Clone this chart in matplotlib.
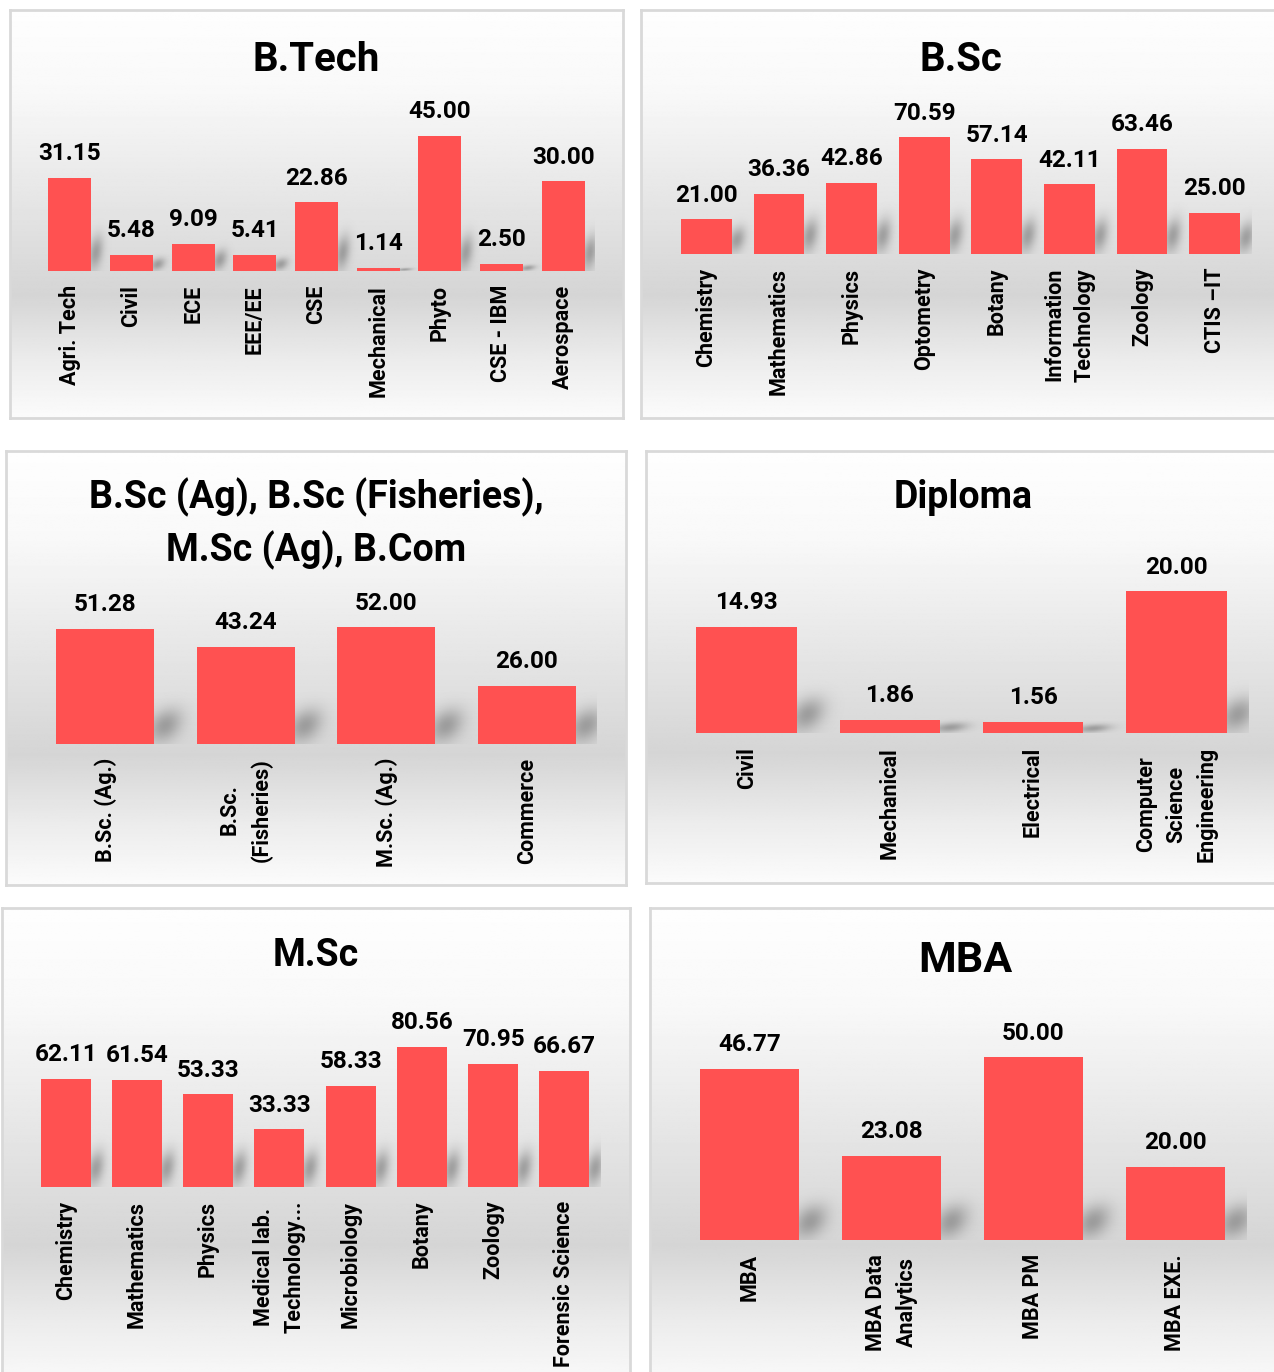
import numpy as np
import matplotlib
matplotlib.use('Agg')
import matplotlib.pyplot as plt

plt.rcParams['font.family'] = ['Roboto', 'DejaVu Sans']
plt.rcParams['font.weight'] = 'bold'

W, H = 1274, 1372

# data
btech_cats = ['Agri. Tech', 'Civil', 'ECE', 'EEE/EE', 'CSE', 'Mechanical', 'Phyto', 'CSE - IBM', 'Aerospace']
btech_vals = [31.15, 5.48, 9.09, 5.41, 22.86, 1.14, 45.00, 2.50, 30.00]

bsc_cats = ['Chemistry', 'Mathematics', 'Physics', 'Optometry', 'Botany',
            'Information\nTechnology', 'Zoology', 'CTIS \u2013IT']
bsc_vals = [21.00, 36.36, 42.86, 70.59, 57.14, 42.11, 63.46, 25.00]

ag_cats = ['B.Sc. (Ag.)', 'B.Sc.\n(Fisheries)', 'M.Sc. (Ag.)', 'Commerce']
ag_vals = [51.28, 43.24, 52.00, 26.00]

dip_cats = ['Civil', 'Mechanical', 'Electrical', 'Computer\nScience\nEngineering']
dip_vals = [14.93, 1.86, 1.56, 20.00]

msc_cats = ['Chemistry', 'Mathematics', 'Physics', 'Medical lab.\nTechnology...',
            'Microbiology', 'Botany', 'Zoology', 'Forensic Science']
msc_vals = [62.11, 61.54, 53.33, 33.33, 58.33, 80.56, 70.95, 66.67]

mba_cats = ['MBA', 'MBA Data\nAnalytics', 'MBA PM', 'MBA EXE.']
mba_vals = [46.77, 23.08, 50.00, 20.00]

BAR = '#FF5151'

# panel box (x0, y0, x1, y1), plot box (left, top, right, baseline), px per unit, title, title y
panels = [
    ('B.Tech', btech_cats, btech_vals, (10, 10, 623, 418), (39, 100, 594, 271), 3.0, 60, 29),
    ('B.Sc', bsc_cats, bsc_vals, (641, 10, 1290, 418), (670, 100, 1251, 254), 1.657, 60, 29),
    ('B.Sc (Ag), B.Sc (Fisheries),\nM.Sc (Ag), B.Com', ag_cats, ag_vals,
     (6, 451, 626, 885), (35, 590, 597, 744), 2.25, 524, 27),
    ('Diploma', dip_cats, dip_vals, (646, 451, 1290, 883), (675, 560, 1248, 733), 7.1, 497, 27),
    ('M.Sc', msc_cats, msc_vals, (2, 908, 630, 1390), (30, 1010, 600, 1187), 1.74, 955, 27),
    ('MBA', mba_cats, mba_vals, (650, 908, 1290, 1390), (679, 1020, 1246, 1240), 3.66, 960, 31),
]


def frac(x0, y0, x1, y1):
    return [x0 / W, 1 - y1 / H, (x1 - x0) / W, (y1 - y0) / H]


# background gradient (top white -> grey near the floor -> light again)
stops_y = [0.0, 0.2, 0.45, 0.70, 0.86, 1.0]
stops_v = [0.995, 0.975, 0.905, 0.835, 0.925, 0.985]
gy = np.linspace(0, 1, 300)
gv = np.interp(gy, stops_y, stops_v)
grad = np.repeat(gv[:, None], 2, axis=1)

# soft shadow blob behind each bar, fading to zero at every edge
sx = np.linspace(0, 1, 80)
sy = np.linspace(0, 1, 80)
SX, SY = np.meshgrid(sx, sy)
xc = 0.12 + 0.3 * SY
shadow_alpha = 0.65 * np.exp(-((SX - xc) / 0.26) ** 2) * np.exp(-((SY - 0.35) / 0.3) ** 2)
shadow_alpha *= np.sin(np.pi * np.clip(SX * 0.5 + 0.5, 0, 1)) ** 0.5
shadow_alpha *= np.cos(np.pi * 0.5 * SY)
shadow = np.zeros((80, 80, 4))
shadow[..., :3] = 0.42
shadow[..., 3] = shadow_alpha

fig = plt.figure(figsize=(W / 100, H / 100), dpi=100)

for title, cats, vals, box, pbox, scale, ty, tsize in panels:
    bg = fig.add_axes(frac(*box), zorder=0)
    bg.imshow(grad, cmap='gray', vmin=0, vmax=1, aspect='auto', extent=(0, 1, 1, 0))
    bg.set_xlim(0, 1)
    bg.set_ylim(1, 0)
    bg.set_xticks([])
    bg.set_yticks([])
    for s in bg.spines.values():
        s.set_color('#d9d9d9')
        s.set_linewidth(2)

    left, top, right, base = pbox
    ax = fig.add_axes(frac(left, top, right, base), zorder=1)
    ax.patch.set_alpha(0)
    n = len(cats)
    x = np.arange(n)

    sh_max = 60 / scale
    for i, v in enumerate(vals):
        h = min(v * 1.3, sh_max)
        ax.imshow(shadow, extent=(i + 0.33, i + 0.78, 0, h), origin='lower',
                  aspect='auto', zorder=1, interpolation='bilinear')
    ax.set_xlim(-0.5, n - 0.5)
    ax.set_ylim(0, (base - top) / scale)

    ax.bar(x, vals, width=0.7, color=BAR, zorder=2)
    for i, v in enumerate(vals):
        ax.annotate(f'{v:.2f}', (i, v), xytext=(0, 9), textcoords='offset points',
                    ha='center', va='bottom', fontsize=17.5, fontweight='bold', color='#000000')

    ax.set_xticks(x)
    ax.set_xticklabels(cats, rotation=90, fontsize=15.5, fontweight='bold',
                       ha='center', va='top', multialignment='center', linespacing=1.5)
    ax.tick_params(axis='x', length=0, pad=10)
    ax.set_yticks([])
    for s in ax.spines.values():
        s.set_visible(False)

    cx = (box[0] + min(box[2], 1280)) / 2
    fig.text(cx / W, 1 - ty / H, title, ha='center', va='center', fontsize=tsize,
             fontweight='bold', color='#000000', linespacing=1.45)

fig.savefig('out.png', dpi=100, facecolor='white')
